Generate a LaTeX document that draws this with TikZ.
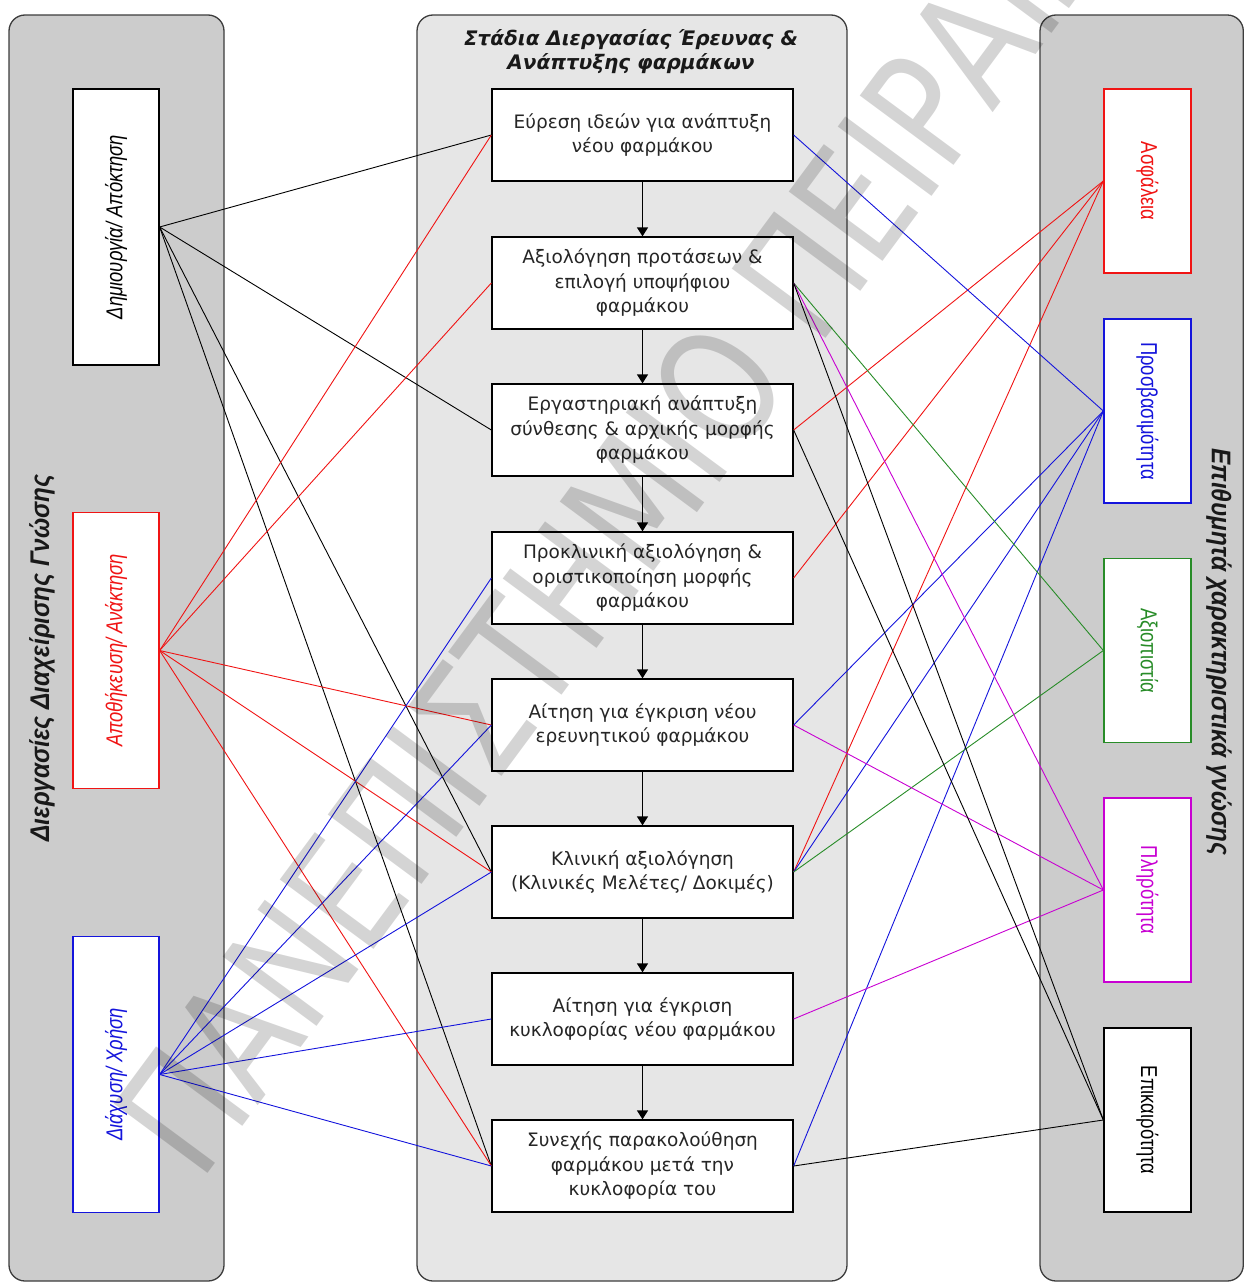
\documentclass[tikz,border=0pt]{standalone}
\usepackage{fontspec}
\setmainfont{DejaVu Sans}
\newfontfamily\labfont{Liberation Sans}
\usetikzlibrary{arrows.meta}
\definecolor{cred}{RGB}{240,20,20}
\definecolor{cblue}{RGB}{20,20,220}
\definecolor{cgreen}{RGB}{40,140,40}
\definecolor{cmag}{RGB}{200,0,210}
\definecolor{panelA}{RGB}{204,204,204}
\definecolor{panelB}{RGB}{230,230,230}
\definecolor{edgec}{RGB}{60,60,60}
\newcommand\klab[1]{\rotatebox{90}{\scalebox{0.8}[1]{\labfont\itshape\fontsize{23}{23}\selectfont #1}}}
\newcommand\qlab[1]{\rotatebox{-90}{\scalebox{0.8}[1]{\labfont\fontsize{23}{23}\selectfont #1}}}
\begin{document}
\begin{tikzpicture}[x=1pt,y=-1pt,
 panel/.style={draw=edgec, line width=1.3pt, rounded corners=16pt},
 stage/.style={draw=black, fill=white, line width=1.3pt, minimum width=301pt, minimum height=92pt, inner sep=0pt, align=center, font=\fontsize{18.5}{24.5}\selectfont, text=black!85},
 kbox/.style={draw, fill=white, line width=1.3pt, minimum width=86pt, minimum height=276pt, inner sep=0pt},
 qbox/.style={draw, fill=white, line width=1.3pt, minimum width=87pt, minimum height=184pt, inner sep=0pt},
 link/.style={line width=0.9pt},
 flow/.style={line width=1.3pt, -{Triangle[width=11pt,length=9pt]}},
 ptitle/.style={inner sep=0pt, text=black!90}
]
\useasboundingbox (0,0) rectangle (1244,1282);
% panels
\path[panel, fill=panelA] (9,15) rectangle (224,1281);
\path[panel, fill=panelB] (417,15) rectangle (847,1281);
\path[panel, fill=panelA] (1040,15) rectangle (1243.3,1281);
% panel titles
\node[ptitle] (tl) at (42,658) {\rotatebox{90}{\scalebox{0.9}[1]{\labfont\bfseries\itshape\fontsize{27}{27}\selectfont Διεργασίες Διαχείρισης Γνώσης}}};
\node[ptitle] (tr) at (1219,652) {\rotatebox{-90}{\scalebox{0.9}[1]{\labfont\bfseries\itshape\fontsize{27}{27}\selectfont Επιθυμητά χαρακτηριστικά γνώσης}}};
\node[ptitle, align=center, font=\bfseries\itshape\fontsize{20}{24}\selectfont] (tm) at (631,52) {Στάδια Διεργασίας Έρευνας \&\\Ανάπτυξης φαρμάκων};
% left boxes
\node[kbox, draw=black] (k1) at (116,227) {\klab{Δημιουργία/ Απόκτηση}};
\node[kbox, draw=cred, text=cred] (k2) at (116,650.5) {\klab{Αποθήκευση/ Ανάκτηση}};
\node[kbox, draw=cblue, text=cblue] (k3) at (116,1074.5) {\klab{Διάχυση/ Χρήση}};
% stages
\node[stage] (s1) at (642.5,135) {Εύρεση ιδεών για ανάπτυξη\\νέου φαρμάκου};
\node[stage] (s2) at (642.5,283) {Αξιολόγηση προτάσεων \&\\επιλογή υποψήφιου\\φαρμάκου};
\node[stage] (s3) at (642.5,430) {Εργαστηριακή ανάπτυξη\\σύνθεσης \& αρχικής μορφής\\φαρμάκου};
\node[stage] (s4) at (642.5,578) {Προκλινική αξιολόγηση \&\\οριστικοποίηση μορφής\\φαρμάκου};
\node[stage] (s5) at (642.5,725) {Αίτηση για έγκριση νέου\\ερευνητικού φαρμάκου};
\node[stage] (s6) at (642.5,872) {Κλινική αξιολόγηση\\(Κλινικές Μελέτες/ Δοκιμές)};
\node[stage] (s7) at (642.5,1019) {Αίτηση για έγκριση\\κυκλοφορίας νέου φαρμάκου};
\node[stage] (s8) at (642.5,1166) {Συνεχής παρακολούθηση\\φαρμάκου μετά την\\κυκλοφορία του};
% right boxes
\node[qbox, draw=cred, text=cred] (q1) at (1147.5,181) {\qlab{Ασφάλεια}};
\node[qbox, draw=cblue, text=cblue] (q2) at (1147.5,411) {\qlab{Προσβασιμότητα}};
\node[qbox, draw=cgreen, text=cgreen] (q3) at (1147.5,650.5) {\qlab{Αξιοπιστία}};
\node[qbox, draw=cmag, text=cmag] (q4) at (1147.5,890) {\qlab{Πληρότητα}};
\node[qbox, draw=black, text=black] (q5) at (1147.5,1120) {\qlab{Επικαιρότητα}};
% flow arrows
\foreach \a/\b in {s1/s2,s2/s3,s3/s4,s4/s5,s5/s6,s6/s7,s7/s8}
  \draw[flow] (\a.south) -- (\b.north);
% left links
\foreach \t in {s1,s3,s6,s8} \draw[link, black] (k1.east) -- (\t.west);
\foreach \t in {s1,s2,s5,s6,s8} \draw[link, cred] (k2.east) -- (\t.west);
\foreach \t in {s4,s5,s6,s7,s8} \draw[link, cblue] (k3.east) -- (\t.west);
% right links
\foreach \s in {s3,s4,s6} \draw[link, cred] (\s.east) -- (q1.west);
\foreach \s in {s1,s5,s6,s8} \draw[link, cblue] (\s.east) -- (q2.west);
\foreach \s in {s2,s6} \draw[link, cgreen] (\s.east) -- (q3.west);
\foreach \s in {s2,s5,s7} \draw[link, cmag] (\s.east) -- (q4.west);
\foreach \s in {s2,s3,s8} \draw[link, black] (\s.east) -- (q5.west);
% watermark
\node[rotate=53.5, text=black, text opacity=0.17, inner sep=0pt] (wm) at (640,492) {\scalebox{0.8}[1]{\fontsize{160}{160}\selectfont ΠΑΝΕΠΙΣΤΗΜΙΟ ΠΕΙΡΑΙΩΣ}};
\end{tikzpicture}
\end{document}
